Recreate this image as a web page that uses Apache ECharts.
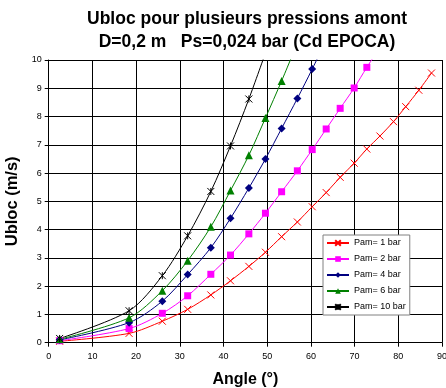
<!DOCTYPE html>
<html>
<head>
<meta charset="utf-8">
<script src="https://cdn.jsdelivr.net/npm/echarts@6/dist/echarts.min.js"></script>
<style>
html,body{margin:0;padding:0;background:#fff;}
#c{width:446px;height:388px;}
</style>
</head>
<body>
<div id="c"></div>
<script>
// Data
var angles = [2.5, 18.4, 26.0, 31.8, 37.1, 41.6, 45.8, 49.6, 53.3, 56.9, 60.3, 63.5, 66.7, 69.9, 72.8, 75.8, 78.9, 81.7, 84.7, 87.6];
var pam1 = [0.05, 0.33, 0.76, 1.18, 1.69, 2.19, 2.70, 3.20, 3.75, 4.27, 4.81, 5.31, 5.85, 6.35, 6.85, 7.31, 7.82, 8.35, 8.93, 9.54];
var pam2 = [0.07, 0.50, 1.04, 1.66, 2.42, 3.10, 3.85, 4.58, 5.34, 6.08, 6.83, 7.56, 8.29, 9.01, 9.74, 10.45];
var pam4 = [0.10, 0.71, 1.47, 2.41, 3.36, 4.40, 5.47, 6.50, 7.58, 8.64, 9.68, 10.70];
var pam6 = [0.12, 0.88, 1.84, 2.90, 4.10, 5.38, 6.63, 7.95, 9.26, 10.60];
var pam10 = [0.15, 1.13, 2.37, 3.78, 5.35, 6.96, 8.62, 10.25];
var seriesNames = ['Pam= 1 bar', 'Pam= 2 bar', 'Pam= 4 bar', 'Pam= 6 bar', 'Pam= 10 bar'];
var xTicks = [0, 10, 20, 30, 40, 50, 60, 70, 80, 90];
var yTicks = [0, 1, 2, 3, 4, 5, 6, 7, 8, 9, 10];

var FONT = 'Liberation Sans, Arial, Helvetica, sans-serif';
var colors = ['#FF0000', '#FF00FF', '#000080', '#008000', '#000000'];
var symbols = [
  'path://M0,0L10,10M10,0L0,10',
  'rect',
  'diamond',
  'triangle',
  'path://M0,0L10,10M10,0L0,10M5,0L5,10'
];
var sizes = [7, 7, 8, 8, 7];
var values = [pam1, pam2, pam4, pam6, pam10];

function pairs(v) {
  var out = [];
  for (var i = 0; i < v.length; i++) out.push([angles[i], v[i]]);
  return out;
}

var series = values.map(function (v, k) {
  return {
    name: seriesNames[k],
    type: 'line',
    data: pairs(v),
    smooth: 0.3,
    clip: true,
    symbol: symbols[k],
    symbolSize: sizes[k],
    showAllSymbol: true,
    lineStyle: { color: colors[k], width: 1 },
    itemStyle: { color: colors[k], borderColor: colors[k], borderWidth: (k === 0 || k === 4) ? 1 : 0 },
    emphasis: { disabled: true },
    animation: false
  };
});

var chart = echarts.init(document.getElementById('c'), null, { renderer: 'canvas' });
chart.setOption({
  animation: false,
  backgroundColor: '#ffffff',
  title: {
    text: 'Ubloc pour plusieurs pressions amont\nD=0,2 m   Ps=0,024 bar (Cd EPOCA)',
    left: 242,
    top: 3,
    textAlign: 'center',
    textStyle: { fontFamily: FONT, fontWeight: 'bold', fontSize: 17.5, lineHeight: 23, color: '#000' }
  },
  legend: {
    data: seriesNames,
    orient: 'vertical',
    left: 323,
    top: 235,
    padding: [3, 4, 3, 3],
    itemGap: 6,
    itemWidth: 22,
    itemHeight: 7,
    itemTextGap: 3,
    backgroundColor: '#ffffff',
    borderColor: '#808080',
    borderWidth: 1,
    textStyle: { fontFamily: FONT, fontSize: 9, color: '#000', lineHeight: 10 }
  },
  grid: { left: 48.7, right: 4, top: 60, bottom: 45.3, containLabel: false, outerBoundsMode: 'none' },
  xAxis: {
    type: 'value',
    min: 0, max: 90, interval: 10,
    name: 'Angle (°)',
    nameLocation: 'middle',
    nameGap: 29,
    nameTextStyle: { fontFamily: FONT, fontWeight: 'bold', fontSize: 16, color: '#000' },
    axisLine: { show: true, lineStyle: { color: '#000', width: 1 } },
    axisTick: { show: true, inside: false, length: 4, lineStyle: { color: '#000' } },
    axisLabel: { fontFamily: FONT, fontSize: 9, color: '#000', margin: 9 },
    splitLine: { show: true, lineStyle: { color: '#000', width: 1 } }
  },
  yAxis: {
    type: 'value',
    min: 0, max: 10, interval: 1,
    name: 'Ubloc (m/s)',
    nameLocation: 'middle',
    nameGap: 26,
    nameRotate: 90,
    nameTextStyle: { fontFamily: FONT, fontWeight: 'bold', fontSize: 16.5, color: '#000' },
    axisLine: { show: true, lineStyle: { color: '#000', width: 1 } },
    axisTick: { show: true, inside: false, length: 4, lineStyle: { color: '#000' } },
    axisLabel: { fontFamily: FONT, fontSize: 9, color: '#000', margin: 7 },
    splitLine: { show: true, lineStyle: { color: '#000', width: 1 } }
  },
  series: series
});
</script>
</body>
</html>
